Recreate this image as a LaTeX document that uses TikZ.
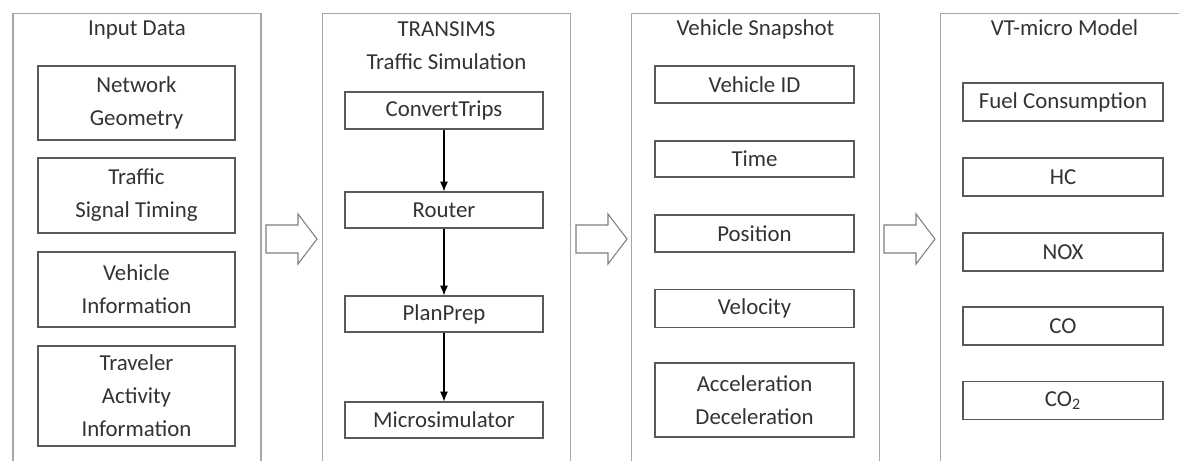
\documentclass[tikz,border=0pt]{standalone}
\usepackage{fontspec}
\setmainfont{Carlito}
\usetikzlibrary{arrows.meta}
\definecolor{txtgray}{HTML}{333333}
\definecolor{framegray}{HTML}{A6A6A6}
\definecolor{boxgray}{HTML}{595959}
\definecolor{arrowgray}{HTML}{7F7F7F}
\begin{document}
\begin{tikzpicture}[x=0.02cm,y=-0.02cm,
    every node/.style={text=txtgray,font=\fontsize{13}{18.8}\selectfont},
    panel/.style={draw=framegray,line width=0.6pt,minimum width=4.96cm,minimum height=9.14cm,inner sep=0pt},
    item/.style={draw=boxgray,line width=0.7pt,align=center,inner sep=0pt},
    flow/.style={-{Latex[length=5.5pt,width=4.5pt]},line width=0.6pt,black},
    bigarrow/.style={draw=arrowgray,fill=white,line width=0.6pt,line join=miter}]
      \useasboundingbox (0,0) rectangle (1179,460);
      \clip (0,0) rectangle (1179,460);
      \fill[white] (0,0) rectangle (1179,460);
      % the four panels
      \foreach \name/\x in {pin/137,psim/446.5,psnap/755.5,pvt/1064.5}
        \node[panel] (\name) at (\x,241.5) {};
      \node[anchor=base] (tin) at (137,35) {Input Data};
      \node[align=center] (tsim) at (446.5,46) {TRANSIMS\\Traffic Simulation};
      \node[anchor=base] (tsnap) at (755.5,35) {Vehicle Snapshot};
      \node[anchor=base] (tvt) at (1064.5,35) {VT-micro Model};
      % input data
      \node[item,minimum width=3.94cm,minimum height=1.48cm] (geom) at (136.5,103) {Network\\Geometry};
      \node[item,minimum width=3.94cm,minimum height=1.5cm] (signal) at (136.5,195.5) {Traffic\\Signal Timing};
      \node[item,minimum width=3.94cm,minimum height=1.5cm] (vehinfo) at (136.5,289.5) {Vehicle\\Information};
      \node[item,minimum width=3.94cm,minimum height=2cm] (travel) at (136.5,396) {Traveler\\Activity\\Information};
      % transims
      \node[item,minimum width=3.96cm,minimum height=0.74cm] (convert) at (444,110.5) {ConvertTrips};
      \node[item,minimum width=3.96cm,minimum height=0.72cm] (router) at (444,210) {Router};
      \node[item,minimum width=3.96cm,minimum height=0.72cm] (planprep) at (444,314) {PlanPrep};
      \node[item,minimum width=3.96cm,minimum height=0.72cm] (micro) at (444,420) {Microsimulator};
      \foreach \a/\b in {convert/router,router/planprep,planprep/micro}
        \draw[flow] (\a) -- (\b);
      % snapshot
      \node[item,minimum width=3.98cm,minimum height=0.74cm] (vid) at (754.5,84.5) {Vehicle ID};
      \node[item,minimum width=3.98cm,minimum height=0.72cm] (time) at (754.5,159) {Time};
      \node[item,minimum width=3.98cm,minimum height=0.74cm] (pos) at (754.5,233.5) {Position};
      \node[item,minimum width=3.98cm,minimum height=0.76cm] (vel) at (754.5,308.5) {Velocity};
      \node[item,minimum width=3.98cm,minimum height=1.48cm] (accel) at (754.5,400) {Acceleration\\Deceleration};
      % vt-micro
      \foreach \name/\y/\txt in {fuel/102/Fuel Consumption,hc/177/HC,nox/252/NOX,co/326/CO,co2/400.5/CO\textsubscript{2}}
        \node[item,minimum width=4cm,minimum height=0.76cm] (\name) at (1063,\y) {\txt};
      % block arrows between panels
      \foreach \x in {266,576,884}
        \draw[bigarrow] (\x,225) -- ({\x+32},225) -- ({\x+32},214) -- ({\x+51},239)
          -- ({\x+32},264) -- ({\x+32},253) -- (\x,253) -- cycle;
    \end{tikzpicture}
\end{document}
